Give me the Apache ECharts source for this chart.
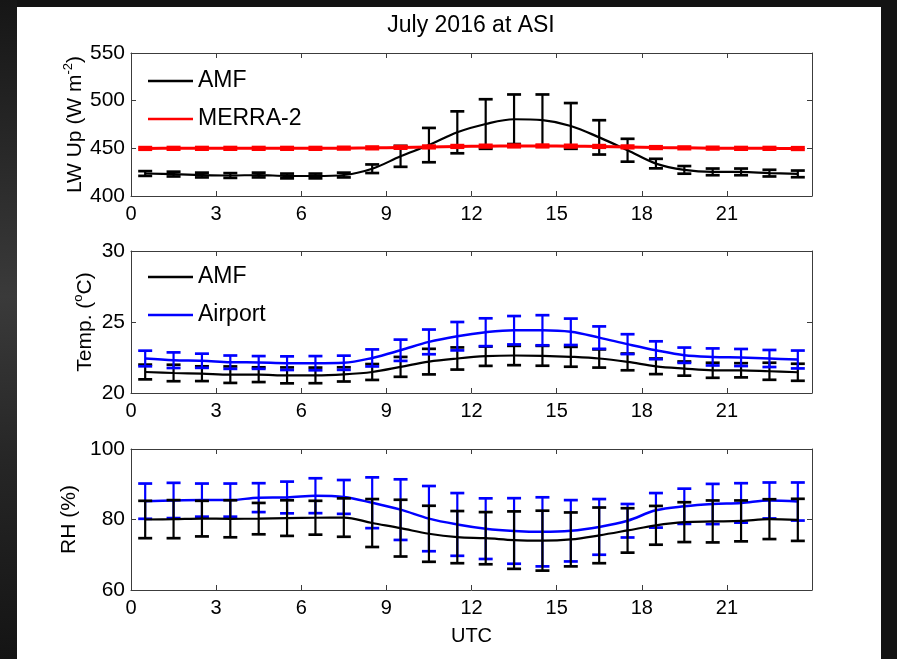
<!DOCTYPE html>
<html>
<head>
<meta charset="utf-8">
<script src="https://cdn.jsdelivr.net/npm/echarts@6/dist/echarts.min.js"></script>
<style>
  html, body { margin: 0; padding: 0; width: 897px; height: 659px; overflow: hidden; background: #131313; }
  #leftstrip { position: absolute; left: 0; top: 0; width: 17px; height: 659px;
    background: linear-gradient(to bottom, #161616 0%, #2a2a2a 25%, #3a3a3a 45%, #262626 70%, #141414 100%); }
  #paper { position: absolute; left: 17px; top: 7px; width: 864px; height: 652px; background: #ffffff; }
  #chart { position: absolute; left: 0; top: 0; width: 897px; height: 659px; }
</style>
</head>
<body>
<div id="leftstrip"></div>
<div id="paper"></div>
<div id="chart"></div>
<script>
// ---------------- DATA ----------------
const TITLE = 'July 2016 at ASI';
const HOURS = [0.5, 1.5, 2.5, 3.5, 4.5, 5.5, 6.5, 7.5, 8.5, 9.5, 10.5, 11.5,
               12.5, 13.5, 14.5, 15.5, 16.5, 17.5, 18.5, 19.5, 20.5, 21.5, 22.5, 23.5];
const X_TICKS = [0, 3, 6, 9, 12, 15, 18, 21];

// Panel 1: LW Up (W m-2)
const LW_AMF      = [423.6, 423.0, 422.0, 421.5, 422.0, 421.0, 421.0, 422.0, 428.6, 441.6, 453.4, 466.8,
                     475.5, 480.5, 479.5, 473.5, 461.5, 448.0, 434.0, 427.4, 425.3, 425.3, 424.0, 423.2];
const LW_AMF_ERR  = [2.5, 2.5, 2.5, 2.5, 2.5, 2.5, 2.5, 2.5, 4.5, 11, 18, 22,
                     26, 26, 27, 24, 18, 12, 5, 4, 3.5, 3.5, 3.5, 3.5];
const LW_MERRA    = [449.9, 450.0, 450.0, 450.0, 450.0, 450.0, 450.0, 450.2, 450.5, 451.0, 451.5, 452.0,
                     452.3, 452.5, 452.5, 452.3, 452.0, 451.5, 450.8, 450.5, 450.2, 450.0, 450.0, 449.8];
const LW_MERRA_ERR = [1.2, 1.2, 1.2, 1.2, 1.2, 1.2, 1.2, 1.2, 1.2, 1.2, 1.2, 1.2,
                      1.2, 1.2, 1.2, 1.2, 1.2, 1.2, 1.2, 1.2, 1.2, 1.2, 1.2, 1.2];

// Panel 2: Temperature (°C)
const T_AMF      = [21.48, 21.41, 21.36, 21.29, 21.29, 21.24, 21.24, 21.31, 21.48, 21.84, 22.21, 22.43,
                    22.59, 22.64, 22.62, 22.55, 22.43, 22.19, 21.88, 21.72, 21.60, 21.60, 21.53, 21.46];
const T_AMF_ERR  = [0.52, 0.58, 0.52, 0.58, 0.52, 0.56, 0.55, 0.50, 0.56, 0.70, 0.90, 0.78,
                    0.68, 0.68, 0.70, 0.70, 0.64, 0.59, 0.55, 0.50, 0.53, 0.50, 0.60, 0.60];
const T_AIR      = [22.43, 22.31, 22.27, 22.17, 22.15, 22.10, 22.10, 22.13, 22.47, 23.01, 23.60, 24.00,
                    24.28, 24.42, 24.42, 24.31, 23.90, 23.44, 23.01, 22.66, 22.54, 22.50, 22.43, 22.36];
const T_AIR_ERR  = [0.55, 0.55, 0.50, 0.47, 0.45, 0.48, 0.50, 0.50, 0.60, 0.75, 0.87, 1.00,
                    0.98, 1.00, 1.06, 0.93, 0.79, 0.70, 0.63, 0.54, 0.60, 0.60, 0.60, 0.63];

// Panel 3: RH (%)
const RH_AMF     = [80.0, 80.1, 80.25, 80.2, 80.25, 80.4, 80.5, 80.55, 79.0, 77.55, 75.95, 75.0,
                    74.7, 74.15, 74.0, 74.35, 75.5, 76.9, 78.35, 79.25, 79.45, 79.6, 80.1, 79.9];
const RH_AMF_ERR = [5.3, 5.4, 5.05, 5.25, 4.45, 5.05, 4.8, 5.45, 6.8, 8.05, 7.95, 7.4,
                    7.4, 8.15, 8.5, 7.65, 7.9, 6.3, 5.5, 5.65, 5.95, 5.8, 5.65, 5.97];
const RH_AIR     = [85.2, 85.4, 85.5, 85.5, 86.2, 86.25, 86.75, 86.4, 84.75, 82.8, 80.25, 78.6,
                    77.4, 76.75, 76.5, 76.8, 77.9, 79.65, 82.6, 83.75, 84.4, 84.7, 85.4, 85.1];
const RH_AIR_ERR = [5.0, 5.0, 4.7, 4.7, 4.1, 4.5, 4.95, 4.8, 7.2, 8.6, 9.25, 8.9,
                    8.6, 9.3, 9.8, 8.7, 7.9, 4.75, 4.9, 5.0, 5.7, 5.6, 5.1, 5.4];

// ---------------- CHART ----------------
const FONT = 'Liberation Sans, Arial, Helvetica, sans-serif';
const AXC = '#3c3c3c';
const GRIDS = [
  { left: 131, right: 85, top: 53, height: 143 },
  { left: 131, right: 85, top: 251, height: 142 },
  { left: 131, right: 85, top: 449, height: 141 }
];
const Y_CFG = [
  { min: 400, max: 550, interval: 50 },
  { min: 20, max: 30, interval: 5 },
  { min: 60, max: 100, interval: 20 }
];

const xAxes = [], yAxes = [];
GRIDS.forEach((g, i) => {
  xAxes.push({
    type: 'value', gridIndex: i, min: 0, max: 24, interval: 3, position: 'bottom',
    axisLine: { show: true, onZero: false, lineStyle: { color: AXC, width: 1 } },
    axisTick: { show: true, inside: true, length: 5, lineStyle: { color: AXC } },
    axisLabel: { color: '#000', fontFamily: FONT, fontSize: 20, margin: 8,
      formatter: v => (X_TICKS.indexOf(v) >= 0 ? String(v) : '') },
    splitLine: { show: false },
    name: i === 2 ? 'UTC' : '', nameLocation: 'middle', nameGap: 36, nameMoveOverlap: false,
    nameTextStyle: { color: '#000', fontFamily: FONT, fontSize: 20 }
  });
  xAxes.push({
    type: 'value', gridIndex: i, min: 0, max: 24, interval: 3, position: 'top',
    axisLine: { show: true, onZero: false, lineStyle: { color: AXC, width: 1 } },
    axisTick: { show: true, inside: true, length: 5, lineStyle: { color: AXC } },
    axisLabel: { show: false }, splitLine: { show: false }
  });
});
const Y_NAMES = [
  { name: '{a|LW Up (W m}{s|-2}{a|)}', gap: 45 },
  { name: '{a|Temp. (}{s|o}{a|C)}', gap: 35 },
  { name: '{a|RH (%)}', gap: 51 }
];
GRIDS.forEach((g, i) => {
  yAxes.push({
    type: 'value', gridIndex: i, min: Y_CFG[i].min, max: Y_CFG[i].max, interval: Y_CFG[i].interval,
    position: 'left',
    axisLine: { show: true, onZero: false, lineStyle: { color: AXC, width: 1 } },
    axisTick: { show: true, inside: true, length: 5, lineStyle: { color: AXC } },
    axisLabel: { color: '#000', fontFamily: FONT, fontSize: 21, margin: 6 },
    splitLine: { show: false },
    name: Y_NAMES[i].name, nameLocation: 'middle', nameGap: Y_NAMES[i].gap, nameRotate: 90,
    nameMoveOverlap: false,
    nameTextStyle: {
      rich: {
        a: { color: '#000', fontFamily: FONT, fontSize: 21, lineHeight: 24, verticalAlign: 'bottom' },
        s: { color: '#000', fontFamily: FONT, fontSize: 13, lineHeight: 24, verticalAlign: 'top', padding: [0, 0, 9, 0] }
      }
    }
  });
  yAxes.push({
    type: 'value', gridIndex: i, min: Y_CFG[i].min, max: Y_CFG[i].max, interval: Y_CFG[i].interval,
    position: 'right',
    axisLine: { show: true, onZero: false, lineStyle: { color: AXC, width: 1 } },
    axisTick: { show: true, inside: true, length: 5, lineStyle: { color: AXC } },
    axisLabel: { show: false }, splitLine: { show: false }
  });
});

function pairs(ys) { return HOURS.map((h, k) => [h, ys[k]]); }
function triples(ys, es) { return HOURS.map((h, k) => [h, ys[k], es[k]]); }

function lineSeries(name, grid, ys, color, width, z) {
  return {
    type: 'line', name: name, xAxisIndex: grid * 2, yAxisIndex: grid * 2,
    data: pairs(ys), smooth: 0.35, symbol: 'none', showSymbol: false,
    lineStyle: { color: color, width: width }, itemStyle: { color: color },
    z: z, animation: false
  };
}
function errSeries(name, grid, ys, es, color, width, z) {
  return {
    type: 'custom', name: name, xAxisIndex: grid * 2, yAxisIndex: grid * 2,
    data: triples(ys, es), z: z, animation: false, silent: true,
    renderItem: function (params, api) {
      const x = api.value(0), y = api.value(1), e = api.value(2);
      const top = api.coord([x, y + e]);
      const bot = api.coord([x, y - e]);
      const hw = 7;
      const st = { stroke: color, lineWidth: width };
      return {
        type: 'group',
        children: [
          { type: 'line', shape: { x1: top[0], y1: top[1], x2: bot[0], y2: bot[1] }, style: st },
          { type: 'line', shape: { x1: top[0] - hw, y1: top[1], x2: top[0] + hw, y2: top[1] }, style: { stroke: color, lineWidth: width + 0.5 } },
          { type: 'line', shape: { x1: bot[0] - hw, y1: bot[1], x2: bot[0] + hw, y2: bot[1] }, style: { stroke: color, lineWidth: width + 0.5 } }
        ]
      };
    }
  };
}

const series = [
  // Panel 1
  lineSeries('AMF', 0, LW_AMF, '#000000', 2.2, 3),
  errSeries('AMF err', 0, LW_AMF, LW_AMF_ERR, '#000000', 2.2, 3),
  lineSeries('MERRA-2', 0, LW_MERRA, '#ff0000', 3, 5),
  errSeries('MERRA-2 err', 0, LW_MERRA, LW_MERRA_ERR, '#ff0000', 2.5, 5),
  // Panel 2
  lineSeries('AMF', 1, T_AMF, '#000000', 2.2, 3),
  errSeries('AMF err2', 1, T_AMF, T_AMF_ERR, '#000000', 2.2, 3),
  lineSeries('Airport', 1, T_AIR, '#0000ff', 2.5, 5),
  errSeries('Airport err', 1, T_AIR, T_AIR_ERR, '#0000ff', 2.2, 5),
  // Panel 3
  lineSeries('Airport', 2, RH_AIR, '#0000ff', 2.5, 3),
  errSeries('Airport err3', 2, RH_AIR, RH_AIR_ERR, '#0000ff', 2.2, 3),
  lineSeries('AMF', 2, RH_AMF, '#000000', 2.2, 5),
  errSeries('AMF err3', 2, RH_AMF, RH_AMF_ERR, '#000000', 2.2, 5)
];

const legendBase = {
  orient: 'vertical', icon: 'rect', itemWidth: 45, itemHeight: 2.5, itemGap: 14, padding: 0,
  textStyle: { color: '#000', fontFamily: FONT, fontSize: 23, lineHeight: 24 }, selectedMode: false
};

const option = {
  animation: false,
  title: {
    text: TITLE, left: 466, top: 9, textAlign: 'center',
    textStyle: { color: '#000', fontFamily: FONT, fontSize: 23, fontWeight: 'normal' }
  },
  grid: GRIDS,
  xAxis: xAxes,
  yAxis: yAxes,
  legend: [
    Object.assign({}, legendBase, { data: ['AMF', 'MERRA-2'], left: 148, top: 69 }),
    Object.assign({}, legendBase, { data: ['AMF', 'Airport'], left: 148, top: 265 })
  ],
  series: series
};

const chart = echarts.init(document.getElementById('chart'), null, { renderer: 'canvas' });
chart.setOption(option);
</script>
</body>
</html>
